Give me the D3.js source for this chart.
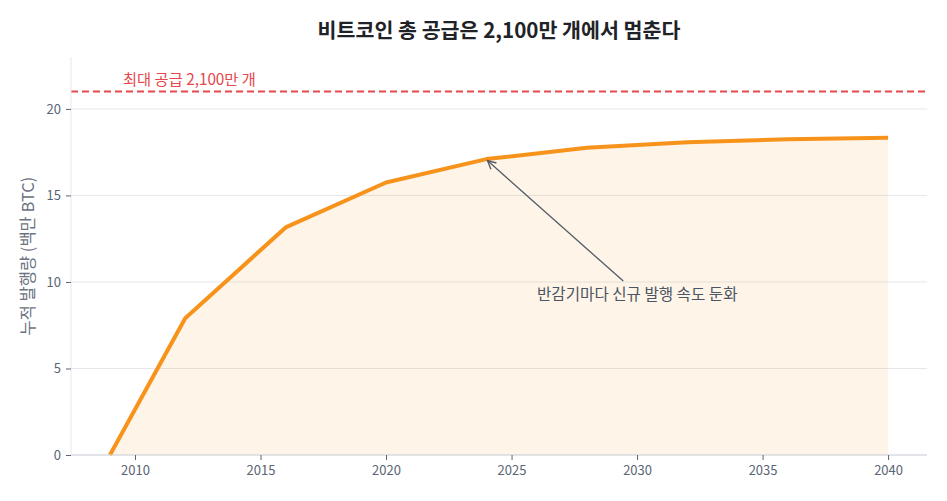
<!DOCTYPE html>
<html><head><meta charset="utf-8">
<script src="https://cdn.jsdelivr.net/npm/d3@7"></script>
<style>body{margin:0;background:#fff;font-family:"Noto Sans CJK KR","Noto Sans",sans-serif;}</style>
</head><body><svg id="c" width="947" height="501"></svg>
<script>
const years = [2009, 2012, 2016, 2020, 2024, 2028, 2032, 2036, 2040];
const supply = [0, 7.9, 13.15, 15.75, 17.1, 17.75, 18.08, 18.25, 18.33];
const maxSupply = 21;
const xTicks = [2010, 2015, 2020, 2025, 2030, 2035, 2040];
const yTicks = [0, 5, 10, 15, 20];
const title = "비트코인 총 공급은 2,100만 개에서 멈춘다";
const yLabel = "누적 발행량 (백만 BTC)";
const capLabel = "최대 공급 2,100만 개";
const noteLabel = "반감기마다 신규 발행 속도 둔화";
const noteYear = 2024, noteVal = 17.1;

const svg = d3.select("#c");
const L = 71, R = 927, T = 57, B = 455;
const x = d3.scaleLinear().domain([2007.45, 2041.55]).range([L, R]);
const y = d3.scaleLinear().domain([0, 23]).range([B, T]);
const font = '"Noto Sans CJK KR","Noto Sans",sans-serif';

// grid
svg.append("g").selectAll("line").data(yTicks).join("line")
  .attr("x1", L).attr("x2", R).attr("y1", d => y(d)).attr("y2", d => y(d))
  .attr("stroke", "#e5e7eb").attr("stroke-width", 1);

// area
const pts = years.map((yr, i) => [yr, supply[i]]);
svg.append("path").datum(pts)
  .attr("d", d3.area().x(d => x(d[0])).y0(y(0)).y1(d => y(d[1])))
  .attr("fill", "#f7931a").attr("fill-opacity", 0.1);

// cap line
svg.append("line").attr("x1", L).attr("x2", R).attr("y1", y(maxSupply)).attr("y2", y(maxSupply))
  .attr("stroke", "#e5484d").attr("stroke-width", 2).attr("stroke-dasharray", "7,4");
svg.append("text").attr("x", 123).attr("y", y(maxSupply) - 7)
  .attr("fill", "#e5484d").attr("font-size", 15.3).attr("font-family", font).text(capLabel);

// line
svg.append("path").datum(pts)
  .attr("d", d3.line().x(d => x(d[0])).y(d => y(d[1])))
  .attr("fill", "none").attr("stroke", "#f7931a").attr("stroke-width", 4).attr("stroke-linejoin", "round");

// axes
const xa = svg.append("g").attr("transform", `translate(0,${B})`)
  .call(d3.axisBottom(x).tickValues(xTicks).tickFormat(d3.format("d")).tickSize(5).tickPadding(6));
const ya = svg.append("g").attr("transform", `translate(${L},0)`)
  .call(d3.axisLeft(y).tickValues(yTicks).tickSize(5).tickPadding(5));
[xa, ya].forEach(g => {
  g.selectAll("text").attr("fill", "#5a6474").attr("font-size", 13).attr("font-family", font);
  g.selectAll(".tick line").attr("stroke", "#5a6474");
});
xa.select(".domain").attr("stroke", "#d1d5db").attr("d", `M${L},0H${R}`);
ya.select(".domain").attr("stroke", "#e5e7eb").attr("d", `M0,${B}V${T}`);

// y label
svg.append("text").attr("transform", `translate(34,256) rotate(-90)`)
  .attr("text-anchor", "middle").attr("fill", "#6b7280").attr("font-size", 16.5).attr("font-family", font)
  .text(yLabel);

// title
svg.append("text").attr("x", 499).attr("y", 38).attr("text-anchor", "middle")
  .attr("font-size", 20.6).attr("font-weight", "bold").attr("fill", "#1f2328").attr("font-family", font).text(title);

// annotation
const defs = svg.append("defs");
defs.append("marker").attr("id", "ah").attr("viewBox", "0 0 10 10").attr("refX", 9).attr("refY", 5)
  .attr("markerWidth", 8).attr("markerHeight", 8).attr("orient", "auto-start-reverse")
  .append("path").attr("d", "M1,1L9,5L1,9").attr("fill", "none").attr("stroke", "#525a66").attr("stroke-width", 1.3);
svg.append("line").attr("x1", x(2029.45)).attr("y1", y(10.05)).attr("x2", x(noteYear) + 1).attr("y2", y(noteVal) + 1.5)
  .attr("stroke", "#525a66").attr("stroke-width", 1.3).attr("marker-end", "url(#ah)");
svg.append("text").attr("x", 537).attr("y", 300).attr("fill", "#4b5563").attr("font-size", 15.6)
  .attr("font-family", font).text(noteLabel);
</script></body></html>
